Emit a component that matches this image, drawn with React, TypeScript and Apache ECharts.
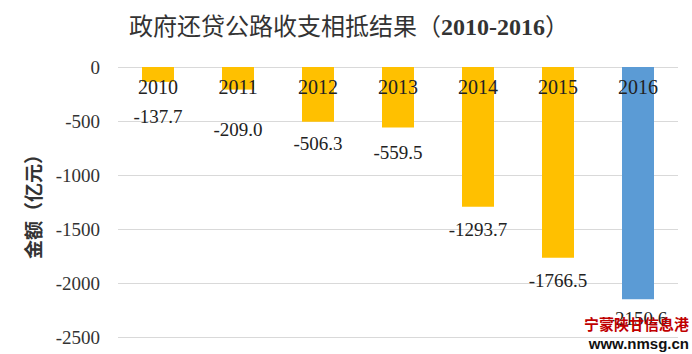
import React, { useEffect, useRef } from "react";
import * as echarts from "echarts";

const years = ["2010", "2011", "2012", "2013", "2014", "2015", "2016"];
const values = [-137.7, -209.0, -506.3, -559.5, -1293.7, -1766.5, -2150.6];
const barColors = ["#FFC000", "#FFC000", "#FFC000", "#FFC000", "#FFC000", "#FFC000", "#5B9BD5"];
const labelDistances = [25, 30, 12, 16, 13, 13, 10];
const yTicks = { min: -2500, max: 0, interval: 500 };

const SERIF = "'Liberation Serif', 'Times New Roman', 'Noto Sans CJK SC', serif";

export default function App() {
  const ref = useRef<HTMLDivElement>(null);
  useEffect(() => {
    if (!ref.current) return;
    const chart = echarts.init(ref.current, undefined, { renderer: "svg" });
    chart.setOption({
      animation: false,
      backgroundColor: "#ffffff",
      title: {
        text: "{a|政府还贷公路收支相抵结果（}{b|2010-2016}{a|）}",
        left: 344,
        textAlign: "center",
        top: 10,
        textStyle: {
          rich: {
            a: { fontFamily: SERIF, fontSize: 24, color: "#333333", fontWeight: "normal" },
            b: { fontFamily: SERIF, fontSize: 24, color: "#333333", fontWeight: "bold" },
          },
        },
      },
      grid: { left: 118, right: 14, top: 67, bottom: 17, containLabel: false },
      xAxis: {
        type: "category",
        data: years,
        position: "top",
        z: 10,
        axisLine: { show: false },
        axisTick: { show: false },
        axisLabel: {
          margin: -30,
          fontFamily: SERIF,
          fontSize: 20,
          color: "#222222",
        },
      },
      yAxis: {
        type: "value",
        min: yTicks.min,
        max: yTicks.max,
        interval: yTicks.interval,
        name: "金额（亿元）",
        nameLocation: "middle",
        nameGap: 74,
        nameRotate: 90,
        nameTextStyle: {
          fontFamily: SERIF,
          fontSize: 19,
          fontWeight: "bold",
          color: "#333333",
        },
        axisLine: { show: false },
        axisTick: { show: false },
        axisLabel: {
          fontFamily: SERIF,
          fontSize: 19,
          color: "#333333",
          margin: 18,
          formatter: (v: number) => String(v),
        },
        splitLine: { lineStyle: { color: "#D9D9D9", width: 1 } },
      },
      series: [
        {
          type: "bar",
          barWidth: 32,
          z: 2,
          data: values.map((v, i) => ({
            value: v,
            itemStyle: { color: barColors[i] },
            label: { distance: labelDistances[i] },
          })),
          label: {
            show: true,
            position: "bottom",
            fontFamily: SERIF,
            fontSize: 19,
            color: "#222222",
            formatter: (p: any) => Number(p.value).toFixed(1),
          },
        },
      ],
      graphic: [
        {
          type: "text",
          right: 3,
          top: 316,
          z: 100,
          style: {
            text: "宁蒙陕甘信息港",
            fontFamily: "'Noto Sans CJK SC', sans-serif",
            fontSize: 15,
            fontWeight: "bold",
            fill: "#C00000",
          },
        },
        {
          type: "text",
          right: 3,
          top: 336,
          z: 100,
          style: {
            text: "www.nmsg.cn",
            fontFamily: "'Liberation Sans', Arial, sans-serif",
            fontSize: 15,
            fontWeight: "bold",
            fill: "#111111",
          },
        },
      ],
    });
    return () => chart.dispose();
  }, []);
  return <div ref={ref} style={{ width: 692, height: 354, position: "absolute", left: 0, top: 0 }} />;
}
